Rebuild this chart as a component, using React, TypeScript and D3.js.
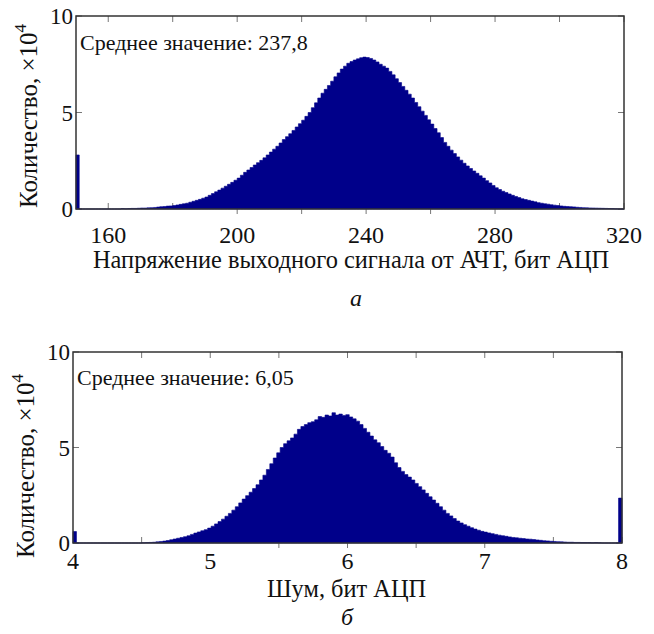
import React from "react";
import * as d3 from "d3";

// ---------- Data ----------
// Panel a: output voltage histogram (bins of 1 ADC unit, from 150 to 320), counts ×10^4
const TOP_DOMAIN = [150, 320];
const TOP_VALUES = [
  2.8,
  0, 0, 0, 0, 0, 0, 0, 0, 0, 0, 0, 0, 0,
  0.02, 0.01, 0.02, 0.03, 0.03, 0.04, 0.05, 0.05, 0.06, 0.07, 0.08, 0.1,
  0.12, 0.13, 0.15, 0.16, 0.18, 0.21, 0.24, 0.27, 0.3, 0.35, 0.4, 0.45,
  0.5, 0.56, 0.62, 0.71, 0.8, 0.89, 0.98, 1.08, 1.18, 1.28, 1.38, 1.49,
  1.6, 1.75, 1.9, 2.02, 2.15, 2.28, 2.4, 2.52, 2.65, 2.8, 2.95, 3.1,
  3.25, 3.42, 3.6, 3.75, 3.9, 4.07, 4.25, 4.42, 4.6, 4.8, 5.0, 5.25,
  5.5, 5.75, 6.0, 6.2, 6.4, 6.62, 6.85, 7.05, 7.25, 7.4, 7.55, 7.64,
  7.72, 7.78, 7.84, 7.87, 7.85, 7.8, 7.72, 7.62, 7.5, 7.4, 7.3, 7.13,
  6.95, 6.75, 6.55, 6.35, 6.15, 5.95, 5.75, 5.52, 5.3, 5.07, 4.85, 4.62,
  4.4, 4.17, 3.95, 3.7, 3.45, 3.25, 3.05, 2.87, 2.7, 2.53, 2.37, 2.23,
  2.1, 1.97, 1.85, 1.72, 1.6, 1.47, 1.35, 1.22, 1.1, 1.01, 0.92, 0.85,
  0.78, 0.71, 0.65, 0.59, 0.53, 0.49, 0.45, 0.41, 0.37, 0.33, 0.3, 0.27,
  0.25, 0.22, 0.2, 0.18, 0.16, 0.14, 0.13, 0.12, 0.11, 0.09, 0.08, 0.07,
  0.06, 0.055, 0.05, 0.045, 0.04, 0.035, 0.03, 0.025, 0.02, 0.01, 0, 0,
];
const TOP_TICKS = [160, 180, 200, 220, 240, 260, 280, 300, 320];
const TOP_TICK_LABELS = [160, 200, 240, 280, 320];
const TOP_OUTER_TICKS = [200, 220, 240, 260, 280];
const TOP_MEAN_TEXT = "Среднее значение: 237,8";
const TOP_XLABEL = "Напряжение выходного сигнала от АЧТ, бит АЦП";
const TOP_LETTER = "а";

// Panel б: noise histogram (bins of 0.025 ADC unit, from 4 to 8), counts ×10^4
const BOT_DOMAIN = [4, 8];
const BOT_VALUES = [
  0.6,
  0, 0, 0, 0, 0, 0, 0, 0, 0, 0, 0, 0, 0, 0, 0, 0, 0, 0, 0,
  0.01, 0.02, 0.03, 0.04, 0.06, 0.08, 0.1, 0.13, 0.17, 0.21, 0.25, 0.29,
  0.33, 0.38, 0.45, 0.52, 0.58, 0.64, 0.7, 0.78, 0.88, 1.0, 1.12, 1.25,
  1.4, 1.55, 1.72, 1.9, 2.1, 2.3, 2.48, 2.66, 2.85, 3.05, 3.3, 3.55,
  3.85, 4.15, 4.45, 4.72, 5.0, 5.2, 5.35, 5.5, 5.7, 5.95, 6.1, 6.2,
  6.3, 6.35, 6.45, 6.62, 6.58, 6.7, 6.65, 6.82, 6.7, 6.75, 6.68, 6.72,
  6.6, 6.5, 6.38, 6.2, 6.0, 5.8, 5.6, 5.4, 5.25, 5.05, 4.85, 4.7,
  4.5, 4.2, 3.95, 3.75, 3.58, 3.45, 3.3, 3.12, 2.95, 2.78, 2.6, 2.42,
  2.25, 2.08, 1.9, 1.72, 1.55, 1.42, 1.28, 1.15, 1.05, 0.96, 0.88, 0.8,
  0.73, 0.67, 0.61, 0.57, 0.53, 0.49, 0.45, 0.41, 0.38, 0.35, 0.32, 0.29,
  0.27, 0.25, 0.23, 0.21, 0.2, 0.18, 0.16, 0.14, 0.12, 0.11, 0.09, 0.08,
  0.07, 0.06, 0.05, 0.04, 0.04, 0.03, 0.03, 0.02, 0.02, 0.02, 0.01, 0.02,
  0.01, 0, 0, 0, 0, 0, 2.35,
];
const BOT_TICKS = [4.5, 5, 5.5, 6, 6.5, 7, 7.5, 8];
const BOT_TICK_LABELS = [4, 5, 6, 7, 8];
const BOT_OUTER_TICKS = [5.5, 6, 6.5, 7];
const BOT_MEAN_TEXT = "Среднее значение: 6,05";
const BOT_XLABEL = "Шум, бит АЦП";
const BOT_LETTER = "б";

const Y_DOMAIN = [0, 10];
const Y_TICKS = [0, 5, 10];
const Y_LABEL = "Количество, ×10";
const Y_LABEL_EXP = "4";

// ---------- Styles ----------
const SERIF = "Liberation Serif";
const FILL = "#00008a";
const AXIS = "#333";
const TICK = "#777";

type PanelProps = {
  values: number[];
  domain: number[];
  ticks: number[];
  tickLabels: number[];
  outerTicks: number[];
  meanText: string;
  xLabel: string;
  letter: string;
  left: number;
  right: number;
  top: number;
  bottom: number;
  meanY: number;
  xLabelX: number;
  xLabelY: number;
  letterX: number;
  letterY: number;
  tickLabelY: number;
  yLabelX: number;
  yLabelY: number;
};

function Panel(p: PanelProps) {
  const x = d3.scaleLinear().domain(p.domain).range([p.left, p.right]);
  const y = d3.scaleLinear().domain(Y_DOMAIN).range([p.bottom, p.top]);
  const w = (p.domain[1] - p.domain[0]) / p.values.length;
  const pts: [number, number][] = p.values.map((v, i) => [p.domain[0] + i * w, v]);
  pts.push([p.domain[1], 0]);
  const area = d3
    .area<[number, number]>()
    .x((d) => x(d[0]))
    .y0(y(0))
    .y1((d) => y(d[1]))
    .curve(d3.curveStepAfter);
  const tickLen = 6;
  const serif = { fontFamily: SERIF };
  return (
    <g>
      {p.ticks.map((t) => (
        <g key={"xt" + t} stroke={TICK} strokeWidth={1}>
          <line x1={x(t)} x2={x(t)} y1={p.bottom} y2={p.bottom - tickLen} />
          <line x1={x(t)} x2={x(t)} y1={p.top} y2={p.top + tickLen} />
        </g>
      ))}
      {Y_TICKS.map((t) => (
        <g key={"yt" + t} stroke={TICK} strokeWidth={1}>
          <line x1={p.left} x2={p.left + tickLen} y1={y(t)} y2={y(t)} />
          <line x1={p.right} x2={p.right - tickLen} y1={y(t)} y2={y(t)} />
        </g>
      ))}
      <path d={area(pts) || ""} fill={FILL} stroke={FILL} strokeWidth={0.6} />
      {p.outerTicks.map((t) => (
        <line key={"ot" + t} x1={x(t)} x2={x(t)} y1={p.bottom} y2={p.bottom + 5} stroke={TICK} strokeWidth={1} />
      ))}
      <rect x={p.left} y={p.top} width={p.right - p.left} height={p.bottom - p.top} fill="none" stroke={AXIS} strokeWidth={1.5} />
      {Y_TICKS.map((t) => (
        <text key={"yl" + t} x={p.left - 3} y={y(t) + 8} textAnchor="end" style={{ ...serif, fontSize: 23 }} fill="#111">
          {t}
        </text>
      ))}
      {p.tickLabels.map((t) => (
        <text key={"xl" + t} x={x(t)} y={p.tickLabelY} textAnchor="middle" style={{ ...serif, fontSize: 24 }} fill="#111">
          {t}
        </text>
      ))}
      <text x={p.left + 4} y={p.meanY} style={{ ...serif, fontSize: 22 }} fill="#111">
        {p.meanText}
      </text>
      <text x={p.xLabelX} y={p.xLabelY} textAnchor="start" style={{ ...serif, fontSize: 24.4 }} fill="#111">
        {p.xLabel}
      </text>
      <text x={p.letterX} y={p.letterY} textAnchor="middle" style={{ ...serif, fontStyle: "italic", fontSize: 24 }} fill="#111">
        {p.letter}
      </text>
      <text
        transform={`translate(${p.yLabelX},${p.yLabelY}) rotate(-90)`}
        textAnchor="start"
        style={{ ...serif, fontSize: 25 }}
        fill="#111"
      >
        {Y_LABEL}
        <tspan dy={-11} style={{ fontSize: 17 }}>
          {Y_LABEL_EXP}
        </tspan>
      </text>
    </g>
  );
}

export default function App() {
  return (
    <svg width={654} height={634} style={{ position: "absolute", left: 0, top: 0, background: "#fff" }}>
      <rect width={654} height={634} fill="#fff" />
      <Panel
        values={TOP_VALUES}
        domain={TOP_DOMAIN}
        ticks={TOP_TICKS}
        tickLabels={TOP_TICK_LABELS}
        outerTicks={TOP_OUTER_TICKS}
        meanText={TOP_MEAN_TEXT}
        xLabel={TOP_XLABEL}
        letter={TOP_LETTER}
        left={76}
        right={624}
        top={16}
        bottom={209}
        meanY={50}
        tickLabelY={243}
        xLabelX={93}
        xLabelY={268}
        letterX={356}
        letterY={306}
        yLabelX={37}
        yLabelY={208}
      />
      <Panel
        values={BOT_VALUES}
        domain={BOT_DOMAIN}
        ticks={BOT_TICKS}
        tickLabels={BOT_TICK_LABELS}
        outerTicks={BOT_OUTER_TICKS}
        meanText={BOT_MEAN_TEXT}
        xLabel={BOT_XLABEL}
        letter={BOT_LETTER}
        left={73}
        right={622}
        top={352}
        bottom={543}
        meanY={385}
        tickLabelY={569}
        xLabelX={267}
        xLabelY={597}
        letterX={347}
        letterY={625}
        yLabelX={34}
        yLabelY={558}
      />
    </svg>
  );
}
